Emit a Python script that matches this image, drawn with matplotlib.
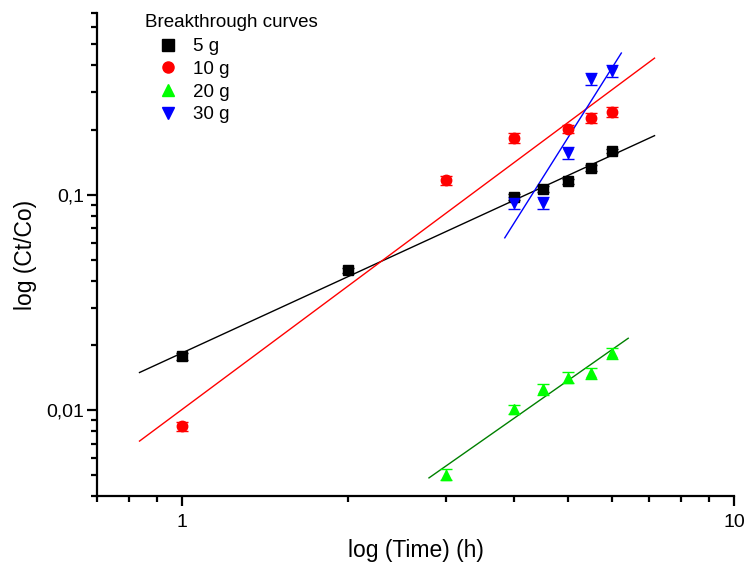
import numpy as np
import matplotlib
matplotlib.use("Agg")
import matplotlib.pyplot as plt
from matplotlib.lines import Line2D
from matplotlib.ticker import FixedLocator, FuncFormatter, NullFormatter

plt.rcParams['font.family'] = ['Liberation Sans', 'DejaVu Sans']

# ---- data ----
series_labels = ["5 g", "10 g", "20 g", "30 g"]

t_5g = [1, 2, 4, 4.5, 5, 5.5, 6]
c_5g = [0.0178, 0.0448, 0.098, 0.1066, 0.116, 0.1336, 0.160]
e_5g = [0.0006, 0.0012, 0.003, 0.003, 0.003, 0.004, 0.004]

t_10g = [1, 3, 4, 5, 5.5, 6]
c_10g = [0.00843, 0.117, 0.184, 0.203, 0.228, 0.243]
e_10g = [0.0004, 0.006, 0.009, 0.009, 0.011, 0.012]

t_20g = [3, 4, 4.5, 5, 5.5, 6]
c_20g = [0.00503, 0.0101, 0.0125, 0.0142, 0.0149, 0.0184]
e_20g = [0.0003, 0.0005, 0.0007, 0.0008, 0.0009, 0.0010]

t_30g = [4, 4.5, 5, 5.5, 6]
c_30g = [0.092, 0.092, 0.157, 0.347, 0.377]
e_30g = [0.006, 0.006, 0.010, 0.022, 0.024]

x_major = [1, 10]
x_minor = [0.7, 0.8, 0.9, 2, 3, 4, 5, 6, 7, 8, 9]
y_major = [0.01, 0.1]
y_minor = [0.004, 0.005, 0.006, 0.007, 0.008, 0.009,
           0.02, 0.03, 0.04, 0.05, 0.06, 0.07, 0.08, 0.09,
           0.2, 0.3, 0.4, 0.5, 0.6, 0.7]

marker_colors = ["#000000", "#FF0000", "#00FF00", "#0000FF"]
line_colors = ["#000000", "#FF0000", "#008000", "#0000FF"]
markers = ["s", "o", "^", "v"]

fig = plt.figure(figsize=(7.45, 5.71), dpi=100)
ax = fig.add_axes([0.1302, 0.1313, 0.8550, 0.8460])
ax.set_xscale('log')
ax.set_yscale('log')

all_t = [t_5g, t_10g, t_20g, t_30g]
all_c = [c_5g, c_10g, c_20g, c_30g]
all_e = [e_5g, e_10g, e_20g, e_30g]

for t, c, e, mc, lc, mk in zip(all_t, all_c, all_e, marker_colors, line_colors, markers):
    lx = np.log10(t)
    ly = np.log10(c)
    slope, icpt = np.polyfit(lx, ly, 1)
    rng = lx.max() - lx.min()
    fx = np.array([lx.min() - 0.1 * rng, lx.max() + 0.1 * rng])
    ax.plot(10 ** fx, 10 ** (slope * fx + icpt), color=lc, lw=1.0, zorder=2)
    ax.errorbar(t, c, yerr=e, fmt=mk, color=mc, ms=7.5, mec=mc, mfc=mc,
                ecolor=mc, elinewidth=1.0, capsize=4, capthick=1.0, zorder=3)

ax.set_xlim(0.7, 10)
ax.set_ylim(0.004, 0.7)

ax.xaxis.set_major_locator(FixedLocator(x_major))
ax.xaxis.set_minor_locator(FixedLocator(x_minor))
ax.yaxis.set_major_locator(FixedLocator(y_major))
ax.yaxis.set_minor_locator(FixedLocator(y_minor))

def fmt(v, pos):
    s = ('%g' % v)
    return s.replace('.', ',')

ax.xaxis.set_major_formatter(FuncFormatter(fmt))
ax.yaxis.set_major_formatter(FuncFormatter(fmt))
ax.xaxis.set_minor_formatter(NullFormatter())
ax.yaxis.set_minor_formatter(NullFormatter())

for s in ['top', 'right']:
    ax.spines[s].set_visible(False)
for s in ['left', 'bottom']:
    ax.spines[s].set_linewidth(1.6)

ax.tick_params(which='major', direction='out', length=7, width=1.6, labelsize=14)
ax.tick_params(axis='y', which='major', pad=2)
ax.tick_params(axis='x', which='major', pad=6)
ax.tick_params(which='minor', direction='out', length=4, width=1.6)

ax.set_xlabel('log (Time) (h)', fontsize=16.5, labelpad=6)
ax.set_ylabel('log (Ct/Co)', fontsize=16.5, labelpad=7)

handles = [Line2D([], [], ls='none', marker=mk, color=mc, ms=8)
           for mk, mc in zip(markers, marker_colors)]
leg = ax.legend(handles, series_labels, title='Breakthrough curves',
                loc='upper left', bbox_to_anchor=(0.057, 1.021), frameon=False,
                fontsize=13.5, title_fontsize=13.5, alignment='left',
                handlelength=2.45, handletextpad=0.15, labelspacing=0.3,
                borderaxespad=0.2)
leg._legend_box.sep = 5

fig.savefig('out.png', dpi=100)
